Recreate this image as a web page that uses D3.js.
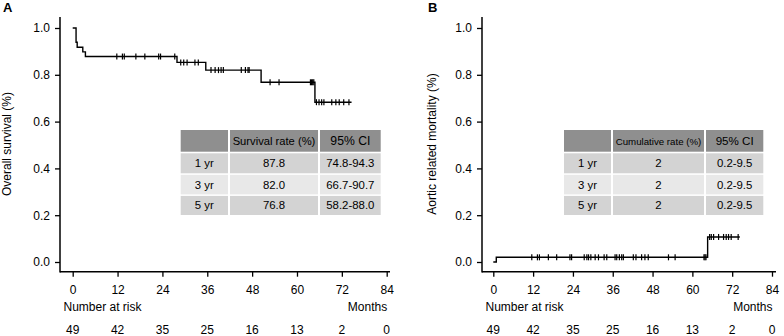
<!DOCTYPE html>
<head>
<meta charset="utf-8">
<title>Survival curves</title>
<script src="https://cdn.jsdelivr.net/npm/d3@7"></script>
<style>
  body { margin: 0; background: #fff; }
  svg text { font-family: "Liberation Sans", Arial, sans-serif; fill: #000; }
</style>
</head>
<body>
<div id="container"></div>
<script>

// Données
const monthTicks = [0, 12, 24, 36, 48, 60, 72, 84];
const numberAtRisk = [49, 42, 35, 25, 16, 13, 2, 0];
const yTicks = [0, 0.2, 0.4, 0.6, 0.8, 1.0];

// A : survie globale (marches)
const survTimes  = [0, 0.9, 1.2, 2.7, 3.4, 27.9, 35.6, 50.4, 64.8];
const survValues = [1.0, 0.939, 0.918, 0.898, 0.878, 0.853, 0.820, 0.768, 0.683];
const survEnd = 74.6;
const censorA = [11.8, 13.3, 13.8, 16.9, 19.3, 23.0, 23.5, 27.3, 28.9, 29.7, 30.6, 32.7, 33.6,
  37.0, 38.1, 39.0, 39.7, 40.3, 45.1, 46.2, 46.9, 47.2, 52.8, 55.2, 63.6, 63.9, 64.2, 64.5,
  65.2, 65.9, 66.6, 67.2, 69.3, 70.4, 71.3, 72.5, 73.9];

// B : mortalité liée à l'aorte (cumulée)
const mortTimes  = [0, 0.9, 64.6];
const mortValues = [0, 0.02, 0.107];
const mortEnd = 74.3;
const censorB = [11.6, 13.3, 13.9, 16.6, 19.1, 23.1, 23.6, 27.4, 28.2, 28.7, 29.4, 30.7, 31.7,
  33.4, 34.2, 36.7, 37.2, 38.0, 38.7, 39.2, 42.2, 43.0, 44.7, 45.7, 46.7, 52.8, 54.8,
  63.5, 63.8, 64.1, 65.2, 65.7, 66.4, 67.9, 69.4, 70.2, 70.9, 71.7, 73.8];

// Tableaux
const tableAHeader = ["", "Survival rate (%)", "95% CI"];
const tableARows = [["1 yr", "87.8", "74.8-94.3"], ["3 yr", "82.0", "66.7-90.7"], ["5 yr", "76.8", "58.2-88.0"]];
const tableBHeader = ["", "Cumulative rate (%)", "95% CI"];
const tableBRows = [["1 yr", "2", "0.2-9.5"], ["3 yr", "2", "0.2-9.5"], ["5  yr", "2", "0.2-9.5"]];

const svg = d3.select("#container").append("svg")
  .attr("width", 784).attr("height", 336);

function drawPanel(p) {
  const g = svg.append("g");
  const x = d3.scaleLinear().domain([0, 84]).range([p.x0, p.x84]);
  const y = d3.scaleLinear().domain([0, 1]).range([262, 28]);
  const axisY = 271.7;

  // lettre du panneau
  g.append("text").attr("x", p.letterX).attr("y", 12)
    .style("font-size", "13px").style("font-weight", "bold").text(p.letter);

  // Axe Y
  const ya = g.append("g").attr("transform", `translate(${p.axisX},0)`)
    .call(d3.axisLeft(y).tickValues(yTicks).tickFormat(d3.format(".1f"))
      .tickSize(5).tickPadding(5));
  ya.select(".domain").remove();
  ya.selectAll("line").attr("stroke-width", 1.3);
  ya.selectAll("text").style("font-size", "12px");
  g.append("line").attr("x1", p.axisX).attr("x2", p.axisX).attr("y1", 17).attr("y2", axisY + 0.7)
    .attr("stroke", "#000").attr("stroke-width", 1.5);

  g.append("text")
    .attr("transform", `translate(${p.ylabX},144) rotate(-90)`)
    .attr("text-anchor", "middle").style("font-size", "12px").text(p.ylabel);

  // Axe X
  const xa = g.append("g").attr("transform", `translate(0,${axisY})`)
    .call(d3.axisBottom(x).tickValues(monthTicks).tickSize(5).tickPadding(8.3));
  xa.select(".domain").remove();
  xa.selectAll("line").attr("stroke-width", 1.3);
  xa.selectAll("text").style("font-size", "12px");
  g.append("line").attr("x1", p.axisX).attr("x2", p.axisEnd).attr("y1", axisY).attr("y2", axisY)
    .attr("stroke", "#000").attr("stroke-width", 1.5);

  g.append("text").attr("x", p.axisX + 3.5).attr("y", 310.7)
    .style("font-size", "12px").text("Number at risk");
  g.append("text").attr("x", x(84) + 0.5).attr("y", 310.7).attr("text-anchor", "end")
    .style("font-size", "12px").text("Months");

  g.selectAll(".risk").data(numberAtRisk).enter().append("text")
    .attr("x", (d, i) => x(monthTicks[i])).attr("y", 333.5)
    .attr("text-anchor", "middle").style("font-size", "12px").text(d => d);

  // Courbe en escalier
  const pts = p.times.map((t, i) => [t, p.values[i]]);
  pts.push([p.end, p.values[p.values.length - 1]]);
  g.append("path").datum(pts)
    .attr("d", d3.line().x(d => x(d[0])).y(d => y(d[1])).curve(d3.curveStepAfter))
    .attr("fill", "none").attr("stroke", "#000").attr("stroke-width", 1.4);

  const valueAt = t => {
    let v = p.values[0];
    p.times.forEach((tt, i) => { if (tt <= t) v = p.values[i]; });
    return v;
  };
  g.selectAll(".cens").data(p.censor).enter().append("line")
    .attr("x1", d => x(d)).attr("x2", d => x(d))
    .attr("y1", d => y(valueAt(d)) - 3).attr("y2", d => y(valueAt(d)) + 3)
    .attr("stroke", "#000").attr("stroke-width", 1.2);

  // Tableau
  const cols = p.tableCols;   // [x0, x1, x2, x3]
  const rowsY = [[130, 151.7], [153.3, 173.3], [174.8, 194.4], [195.9, 215]];
  const fills = ["#8f8f8f", "#d3d3d3", "#e8e8e8", "#d3d3d3"];
  const allRows = [p.header].concat(p.rows);
  allRows.forEach((row, r) => {
    row.forEach((cell, c) => {
      const cx0 = cols[c] + (c > 0 ? 1 : 0), cx1 = cols[c + 1] - 1;
      g.append("rect").attr("x", cx0).attr("y", rowsY[r][0])
        .attr("width", cx1 - cx0).attr("height", rowsY[r][1] - rowsY[r][0])
        .attr("fill", fills[r]);
      let size = "11.4px";
      if (r === 0 && c === 1) size = p.headerSize;
      if (r === 0 && c === 2) size = p.ciSize;
      g.append("text").attr("x", (cx0 + cx1) / 2)
        .attr("y", (rowsY[r][0] + rowsY[r][1]) / 2 + 4)
        .attr("text-anchor", "middle").style("font-size", size).text(cell);
    });
  });
}

drawPanel({
  letter: "A", letterX: 3, axisX: 60, axisEnd: 390, x0: 72.7, x84: 386.7,
  ylabX: 10.5, ylabel: "Overall survival (%)",
  times: survTimes, values: survValues, end: survEnd, censor: censorA,
  tableCols: [180.7, 229, 319, 381.7], header: tableAHeader, rows: tableARows,
  headerSize: "11.2px", ciSize: "12.2px"
});

drawPanel({
  letter: "B", letterX: 428, axisX: 482, axisEnd: 776, x0: 493.3, x84: 772,
  ylabX: 436, ylabel: "Aortic related mortality (%)",
  times: mortTimes, values: mortValues, end: mortEnd, censor: censorB,
  tableCols: [564, 612, 705, 764.3], header: tableBHeader, rows: tableBRows,
  headerSize: "9.7px", ciSize: "11.6px"
});

</script>
</body>
